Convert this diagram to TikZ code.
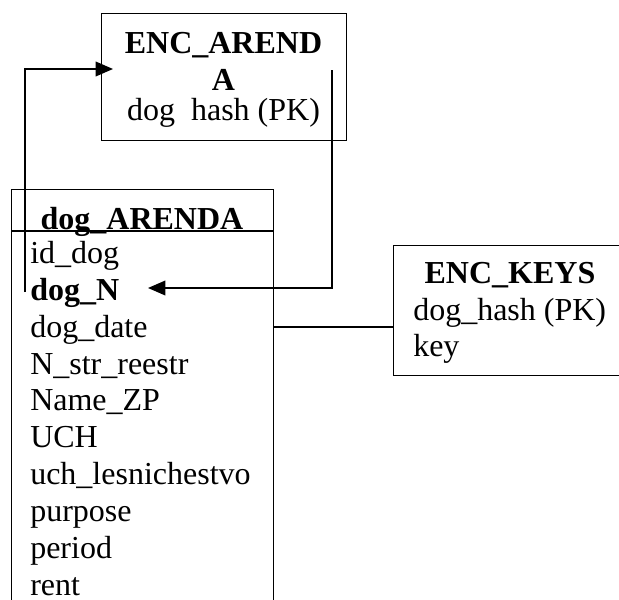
\documentclass[tikz,border=0pt]{standalone}
\usepackage{fontspec}
\setmainfont{Liberation Serif}
\usepackage{tikz}
\usetikzlibrary{arrows.meta}

\begin{document}
\begin{tikzpicture}[
            x=0.75pt, y=-0.75pt,
            >={Triangle[length=13pt,width=11pt]},
            table/.style={draw, rectangle, line width=1.1pt, inner sep=0pt, anchor=north west},
            title/.style={anchor=base, inner sep=0pt, font=\fontsize{24}{28}\selectfont\bfseries},
            field/.style={anchor=base west, inner sep=0pt, font=\fontsize{24}{28}\selectfont},
            link/.style={line width=1.1pt},
        ]
            \useasboundingbox (0,0) rectangle (619,600);
            \clip (0,0) rectangle (619,600);
            \node [table, minimum width=183.75pt, minimum height=95.25pt] (encarenda) at (101,13) {};
            \node [table, minimum width=196.5pt, minimum height=325pt] (dogarenda) at (11,189) {};
            \node [table, minimum width=176.25pt, minimum height=97.5pt] (enckeys) at (393,245) {};
            \node [title] (encarendaname) at (223.5,53) {ENC\_AREND};
            \node [title] (encarendabreak) at (223.5,90) {A};
            \node [field, anchor=base] (encarendahash) at (223.5,120) {dog\ \ hash (PK)};
            \node [title] (dogarendaname) at (142,229) {dog\_ARENDA};
            \node [field] (iddog) at (30,263) {id\_dog};
            \node [field, font=\fontsize{24}{28}\selectfont\bfseries] (dogN) at (30,300) {dog\_N};
            \node [field] (dogdate) at (30,337) {dog\_date};
            \node [field] (nstr) at (30,374) {N\_str\_reestr};
            \node [field] (namezp) at (30,410) {Name\_ZP};
            \node [field] (uch) at (30,447) {UCH};
            \node [field] (uchles) at (30,484) {uch\_lesnichestvo};
            \node [field] (purpose) at (30,521) {purpose};
            \node [field] (period) at (30,558) {period};
            \node [field] (rent) at (30,595) {rent};
            \node [title] (enckeysname) at (510,283) {ENC\_KEYS};
            \node [field] (enckeyshash) at (413,320) {dog\_hash (PK)};
            \node [field] (enckeyskey) at (413,356) {key};
            \coordinate (headline) at (0,231);
            \coordinate (keyline) at (0,327);
            \coordinate (fkstart) at (25,292);
            \coordinate (pktip) at (113,69);
            \coordinate (hashstart) at (332,70);
            \coordinate (dogNtip) at (148,288);
            \draw [link] (dogarenda.west |- headline) -- (dogarenda.east |- headline);
            \draw [link, ->] (fkstart) |- (pktip);
            \draw [link, ->] (hashstart) |- (dogNtip);
            \draw [link] (dogarenda.east |- keyline) -- (enckeys.west |- keyline);
        \end{tikzpicture}
\end{document}
